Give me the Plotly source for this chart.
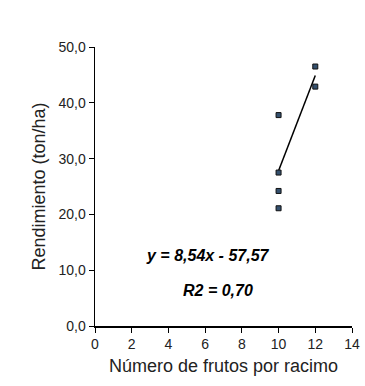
import plotly.graph_objects as go

frutos = [10, 10, 10, 10, 12, 12]
rendimiento = [37.8, 27.5, 24.2, 21.1, 46.5, 42.9]
slope = 8.54
intercept = -57.57
fit_x = [10, 12]
fit_y = [slope * x + intercept for x in fit_x]
x_ticks = [0, 2, 4, 6, 8, 10, 12, 14]
y_ticks = [0, 10, 20, 30, 40, 50]

fig = go.Figure()
fig.add_trace(go.Scatter(x=fit_x, y=fit_y, mode="lines",
                         line=dict(color="black", width=1.5), showlegend=False))
fig.add_trace(go.Scatter(x=frutos, y=rendimiento, mode="markers",
                         marker=dict(symbol="square", size=5, color="#34506e",
                                     line=dict(color="#111111", width=1)),
                         showlegend=False, cliponaxis=False))

fig.add_annotation(x=6.13, y=12.7, text="<b><i>y = 8,54x - 57,57</i></b>",
                   showarrow=False, font=dict(family="Liberation Sans, Arial", size=16, color="black"))
fig.add_annotation(x=6.7, y=6.45, text="<b><i>R2 = 0,70</i></b>",
                   showarrow=False, font=dict(family="Liberation Sans, Arial", size=16, color="black"))

fig.update_layout(
    width=365, height=386,
    margin=dict(l=95, r=13, t=47, b=60),
    plot_bgcolor="white", paper_bgcolor="white",
    separators=",.",
    font=dict(family="Liberation Sans, Arial", size=14, color="#222222"),
    xaxis=dict(range=[0, 14], tickvals=x_ticks, showgrid=False, zeroline=False,
               showline=True, linecolor="black", linewidth=1.5,
               ticks="outside", ticklen=5, tickcolor="black", automargin=False,
               title=dict(text="Número de frutos por racimo", font=dict(size=18), standoff=8),
               fixedrange=True),
    yaxis=dict(range=[0, 50], tickvals=y_ticks, tickformat=".1f", showgrid=False, zeroline=False,
               showline=True, linecolor="black", linewidth=1.5,
               ticks="outside", ticklen=5, tickcolor="black", automargin=False,
               title=dict(text="Rendimiento (ton/ha)", font=dict(size=18), standoff=8),
               fixedrange=True),
)

fig.write_html("out.html",
               config={"displayModeBar": False, "responsive": False, "staticPlot": True},
               post_script="document.body.style.margin='0';document.body.style.overflow='hidden';")
